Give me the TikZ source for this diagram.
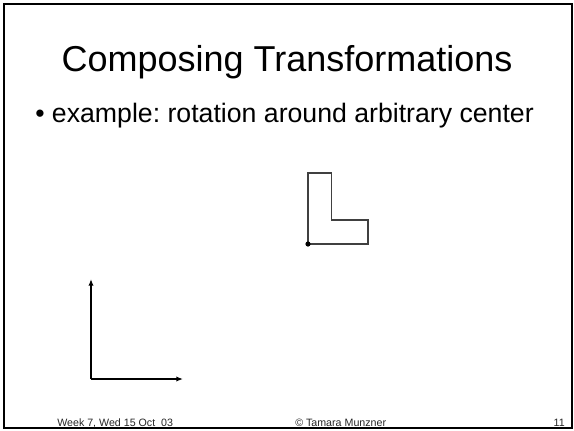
\documentclass[tikz,border=0pt]{standalone}
\usepackage{fontspec}
\setmainfont{Liberation Sans}
\usetikzlibrary{arrows.meta}
\frenchspacing
\begin{document}
\begin{tikzpicture}[x=0.75pt,y=-0.75pt,
  frame/.style={draw=black,line width=1.2pt},
  lshape/.style={draw=black!75,line width=0.8pt,line join=miter},
  axis/.style={draw=black,line width=1.1pt,-{Latex[length=5pt,width=4pt]}},
  foot/.style={font=\fontsize{8pt}{9pt}\selectfont,text=black!85,inner sep=0pt}]
\useasboundingbox (0,0) rectangle (574,430);
\draw[frame] (4,4) rectangle (572,428);
\node[font=\fontsize{27pt}{30pt}\selectfont,anchor=base,inner sep=0pt] (title) at (287,71) {Composing Transformations};
\node[font=\fontsize{20pt}{24pt}\selectfont\frenchspacing,anchor=base west,inner sep=0pt] (bullet) at (35,122) {• example: rotation around arbitrary center};
% L shape
\coordinate (p0) at (308,244);
\coordinate (p1) at (308,173);
\coordinate (p2) at (331.5,173);
\coordinate (p3) at (331.5,220);
\coordinate (p4) at (368,220);
\coordinate (p5) at (368,244);
\draw[lshape] (p0) -- (p1) -- (p2) -- (p3) -- (p4) -- (p5) -- cycle;
\fill[black] (p0) circle (2.6);
% axes
\coordinate (o) at (91,379);
\coordinate (ytop) at (91,279);
\coordinate (xend) at (183,379);
\draw[axis] (o) -- (ytop);
\draw[axis] (o) -- (xend);
% footer
\node[foot,anchor=base west] (f1) at (57,426) {\frenchspacing Week 7, Wed 15 Oct\ \ 03};
\node[foot,anchor=base west] (f2) at (295,426) {© Tamara Munzner};
\node[foot,anchor=base east] (f3) at (565,426) {11};
\end{tikzpicture}
\end{document}
